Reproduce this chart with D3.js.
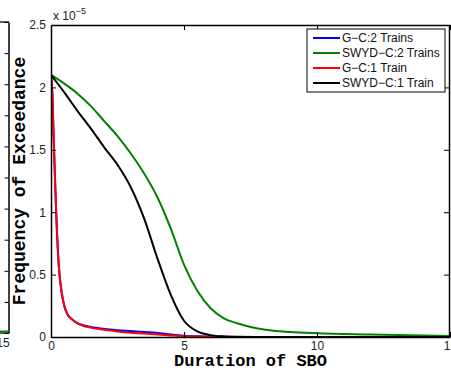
<!DOCTYPE html>
<html lang="en">
<head>
<meta charset="UTF-8">
<script src="https://d3js.org/d3.v7.min.js"></script>
<style>
  body { margin: 0; background: #fff; }
  svg text { font-family: "Liberation Sans", Arial, sans-serif; }
  .axis path, .axis line { stroke: #000; }
</style>
</head>
<body>
<div id="vis"></div>
<script>
// series (y in units of 1e-5)
const seriesNames = ['G\u2212C:2 Trains', 'SWYD\u2212C:2 Trains', 'G\u2212C:1 Train', 'SWYD\u2212C:1 Train'];
const seriesColors = ['#0000ff', '#008000', '#ff0000', '#000000'];

const gc2X = [0, 0.05, 0.1, 0.15, 0.2, 0.3, 0.4, 0.5, 0.6, 0.8, 1.0, 1.2, 1.5, 2, 2.5, 3, 3.5, 4, 4.5, 5, 5.5, 6, 7, 8, 10, 15];
const gc2Y = [2.1, 1.95, 1.6, 1.27, 0.97, 0.55, 0.36, 0.25, 0.19, 0.14, 0.11, 0.095, 0.08, 0.065, 0.055, 0.048, 0.04, 0.032, 0.02, 0.011, 0.006, 0.003, 0.001, 0, 0, 0];

const swyd2X = [0, 0.5, 1, 1.5, 2, 2.5, 3, 3.5, 4, 4.5, 5, 5.5, 6, 6.5, 7, 8, 9, 10, 12, 15];
const swyd2Y = [2.1, 2.03, 1.95, 1.85, 1.73, 1.61, 1.47, 1.31, 1.12, 0.87, 0.58, 0.37, 0.23, 0.15, 0.11, 0.06, 0.04, 0.03, 0.02, 0.008];

const gc1X = [0, 0.05, 0.1, 0.15, 0.2, 0.3, 0.4, 0.5, 0.6, 0.8, 1.0, 1.2, 1.5, 2, 2.5, 3, 3.5, 4, 4.5, 5, 5.5, 6, 7, 8, 10, 15];
const gc1Y = [2.1, 1.95, 1.6, 1.27, 0.97, 0.55, 0.36, 0.25, 0.19, 0.14, 0.11, 0.09, 0.075, 0.058, 0.045, 0.035, 0.028, 0.02, 0.013, 0.007, 0.004, 0.002, 0.001, 0, 0, 0];

const swyd1X = [0, 0.5, 1, 1.5, 2, 2.5, 3, 3.5, 4, 4.5, 5, 5.5, 6, 6.5, 7, 8, 10, 15];
const swyd1Y = [2.1, 1.96, 1.81, 1.67, 1.52, 1.38, 1.2, 0.95, 0.63, 0.34, 0.13, 0.045, 0.015, 0.005, 0.002, 0, 0, 0];

const xTicks = [0, 5, 10, 15];
const yTicks = [0, 0.5, 1, 1.5, 2, 2.5];
const yTickLabels = ['0', '0.5', '1', '1.5', '2', '2.5'];
// clipped neighbouring panel on the left edge
const leftPanelTicks = [0, 1, 2, 3, 4, 5, 6, 7, 8, 9, 10];

const width = 451, height = 371;
const margin = { left: 51, right: 1, top: 25, bottom: 34 };

const svg = d3.select('#vis').append('svg')
  .attr('width', width)
  .attr('height', height);

const x = d3.scaleLinear().domain([0, 15]).range([margin.left, width - margin.right]);
const y = d3.scaleLinear().domain([0, 2.5]).range([height - margin.bottom, margin.top]);

// left-edge fragment of the previous subplot
const leftY = d3.scaleLinear().domain([0, 10]).range([333, 22]);
svg.append('g')
  .attr('class', 'axis')
  .attr('transform', 'translate(8.5,0)')
  .call(d3.axisRight(leftY).tickValues(leftPanelTicks).tickSizeInner(-4).tickSizeOuter(0).tickFormat(''))
  .call(g => g.select('.domain').attr('stroke-width', 1.3));
svg.append('line').attr('x1', 0).attr('x2', 9).attr('y1', 22).attr('y2', 22).attr('stroke', '#000').attr('stroke-width', 1.3);
svg.append('line').attr('x1', 0).attr('x2', 9).attr('y1', 333).attr('y2', 333).attr('stroke', '#000').attr('stroke-width', 1.3);
svg.append('line').attr('x1', 0).attr('x2', 8).attr('y1', 331.5).attr('y2', 331.5).attr('stroke', '#008000').attr('stroke-width', 2);
svg.append('text').attr('x', 3).attr('y', 347).attr('text-anchor', 'middle')
  .style('font-size', '12px').attr('fill', '#222').text('15');

// curves
const line = d3.line()
  .x(d => x(d[0]))
  .y(d => y(d[1]))
  .curve(d3.curveMonotoneX);

const seriesData = [
  d3.zip(gc2X, gc2Y),
  d3.zip(swyd2X, swyd2Y),
  d3.zip(gc1X, gc1Y),
  d3.zip(swyd1X, swyd1Y)
];

svg.append('defs').append('clipPath').attr('id', 'clip')
  .append('rect')
  .attr('x', x(0)).attr('y', y(2.5))
  .attr('width', x(15) - x(0)).attr('height', y(0) - y(2.5));

svg.append('g').attr('clip-path', 'url(#clip)')
  .selectAll('path')
  .data(seriesData)
  .join('path')
  .attr('fill', 'none')
  .attr('stroke', (d, i) => seriesColors[i])
  .attr('stroke-width', 2)
  .attr('d', line);

// axes with inward ticks
const tickLen = 5;
svg.append('g')
  .attr('class', 'axis')
  .attr('transform', `translate(0,${y(0)})`)
  .call(d3.axisBottom(x).tickValues(xTicks).tickSizeInner(-tickLen).tickSizeOuter(0).tickPadding(4))
  .call(g => g.selectAll('text').style('font-size', '12px').attr('fill', '#222'));

svg.append('g')
  .attr('class', 'axis')
  .attr('transform', `translate(0,${y(2.5)})`)
  .call(d3.axisTop(x).tickValues(xTicks).tickSizeInner(-tickLen).tickSizeOuter(0).tickFormat(''));

svg.append('g')
  .attr('class', 'axis')
  .attr('transform', `translate(${x(0)},0)`)
  .call(d3.axisLeft(y).tickValues(yTicks).tickSizeInner(-tickLen).tickSizeOuter(0).tickPadding(5)
    .tickFormat((d, i) => yTickLabels[i]))
  .call(g => g.selectAll('text').style('font-size', '12px').attr('fill', '#222'));

svg.append('g')
  .attr('class', 'axis')
  .attr('transform', `translate(${x(15) - 1},0)`)
  .call(d3.axisRight(y).tickValues(yTicks).tickSizeInner(-tickLen).tickSizeOuter(0).tickFormat(''));

svg.selectAll('.axis .domain').attr('stroke-width', 1.5);

// exponent
const expo = svg.append('text')
  .attr('x', 53).attr('y', 20)
  .style('font-size', '12px').attr('fill', '#222');
expo.append('tspan').text('x 10');
expo.append('tspan').attr('dy', -6).style('font-size', '9px').text('\u22125');

// axis titles
svg.append('text')
  .attr('x', (x(0) + x(15)) / 2)
  .attr('y', 365.5)
  .attr('text-anchor', 'middle')
  .style('font-family', '"Liberation Mono", "Courier New", monospace')
  .style('font-weight', 'bold')
  .style('font-size', '17px')
  .text('Duration of SBO');

svg.append('text')
  .attr('transform', `translate(25,${(y(0) + y(2.5)) / 2}) rotate(-90)`)
  .attr('text-anchor', 'middle')
  .style('font-family', '"Liberation Mono", "Courier New", monospace')
  .style('font-weight', 'bold')
  .style('font-size', '18px')
  .text('Frequency of Exceedance');

// legend
const legend = svg.append('g').attr('transform', 'translate(307,29)');
legend.append('rect')
  .attr('width', 138).attr('height', 63)
  .attr('fill', '#fff').attr('stroke', '#000').attr('stroke-width', 1);
seriesNames.forEach((name, i) => {
  const cy = 9 + i * 15;
  legend.append('line')
    .attr('x1', 6).attr('x2', 33).attr('y1', cy).attr('y2', cy)
    .attr('stroke', seriesColors[i]).attr('stroke-width', 2);
  legend.append('text')
    .attr('x', 35).attr('y', cy).attr('dy', '0.35em')
    .style('font-size', '12px').attr('fill', '#111')
    .text(name);
});
</script>
</body>
</html>
